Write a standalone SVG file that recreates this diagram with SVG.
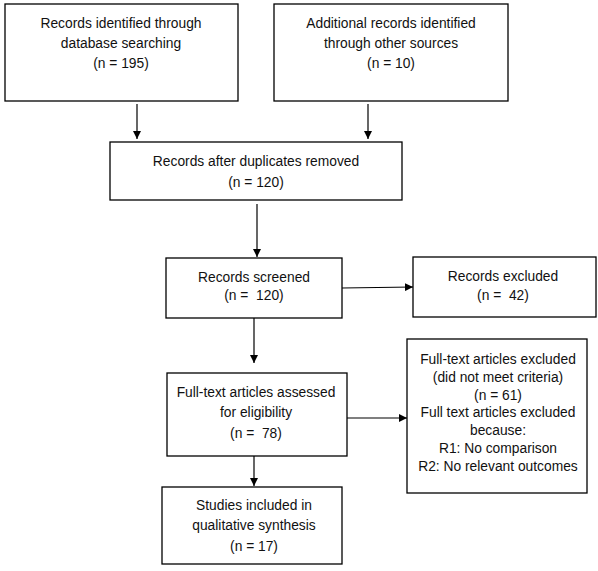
<svg xmlns="http://www.w3.org/2000/svg" width="598" height="571" viewBox="0 0 598 571">
<defs>
<marker id="ah" markerWidth="8" markerHeight="8" refX="8" refY="4" orient="auto" markerUnits="userSpaceOnUse">
<path d="M0,0 L8,4 L0,8 Z" fill="#000"/>
</marker>
<style>
.box{fill:#fff;stroke:#000;stroke-width:1.3}
.t{font-family:"Liberation Sans",Arial,sans-serif;font-size:13.8px;fill:#111;text-anchor:middle}
.c{stroke:#000;stroke-width:1.2;fill:none;marker-end:url(#ah)}
</style>
</defs>
<rect width="598" height="571" fill="#fff"/>
<g id="connectors">
<line class="c" x1="137" y1="104" x2="137" y2="139"/>
<line class="c" x1="368" y1="104" x2="368" y2="139"/>
<line class="c" x1="257" y1="204" x2="257" y2="257"/>
<line class="c" x1="342" y1="288" x2="413" y2="287"/>
<line class="c" x1="254" y1="318" x2="254" y2="363"/>
<line class="c" x1="254" y1="456" x2="254" y2="486"/>
<line class="c" x1="347" y1="418" x2="407" y2="418"/>
</g>
<g id="n1">
<rect class="box" x="5" y="4" width="233" height="97"/>
<text class="t" x="121" y="28">Records identified through</text>
<text class="t" x="121" y="48">database searching</text>
<text class="t" x="121" y="68">(n = 195)</text>
</g>
<g id="n2">
<rect class="box" x="274" y="4" width="234" height="97"/>
<text class="t" x="391" y="28">Additional records identified</text>
<text class="t" x="391" y="48">through other sources</text>
<text class="t" x="391" y="68">(n = 10)</text>
</g>
<g id="n3">
<rect class="box" x="110" y="142" width="292" height="58"/>
<text class="t" x="256" y="166">Records after duplicates removed</text>
<text class="t" x="256" y="187">(n = 120)</text>
</g>
<g id="n4">
<rect class="box" x="166" y="258" width="176" height="60"/>
<text class="t" x="254" y="282">Records screened</text>
<text class="t" x="254" y="300" xml:space="preserve">(n =  120)</text>
</g>
<g id="n5">
<rect class="box" x="413" y="257" width="183" height="60"/>
<text class="t" x="503" y="281">Records excluded</text>
<text class="t" x="503" y="300" xml:space="preserve">(n =  42)</text>
</g>
<g id="n6">
<rect class="box" x="167" y="373" width="180" height="83"/>
<text class="t" x="256" y="397">Full-text articles assessed</text>
<text class="t" x="256" y="417">for eligibility</text>
<text class="t" x="256" y="438" xml:space="preserve">(n =  78)</text>
</g>
<g id="n7">
<rect class="box" x="407" y="339" width="180" height="154"/>
<text class="t" x="498" y="364">Full-text articles excluded</text>
<text class="t" x="498" y="382">(did not meet criteria)</text>
<text class="t" x="498" y="400">(n = 61)</text>
<text class="t" x="498" y="417">Full text articles excluded</text>
<text class="t" x="498" y="435">because:</text>
<text class="t" x="498" y="453">R1: No comparison</text>
<text class="t" x="498" y="471">R2: No relevant outcomes</text>
</g>
<g id="n8">
<rect class="box" x="162" y="487" width="180" height="77"/>
<text class="t" x="254" y="510">Studies included in</text>
<text class="t" x="254" y="530">qualitative synthesis</text>
<text class="t" x="254" y="551">(n = 17)</text>
</g>
</svg>
